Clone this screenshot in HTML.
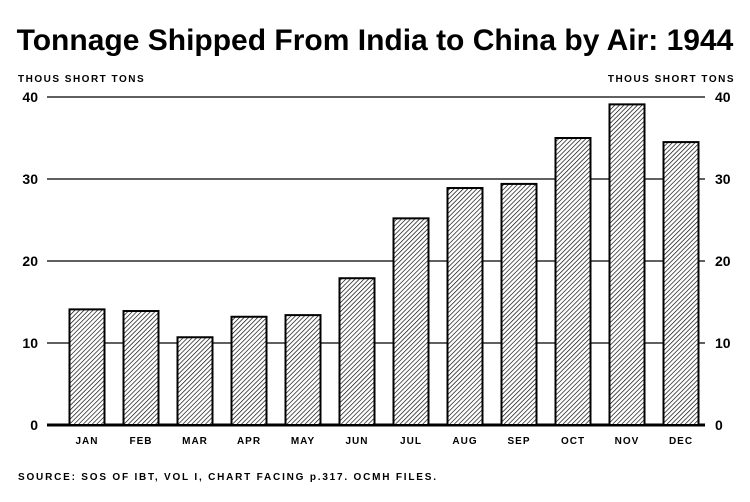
<!DOCTYPE html>
<html><head><meta charset="utf-8"><style>
body{margin:0;background:#fff;}
svg text{font-family:"Liberation Sans",Arial,sans-serif;fill:#000;}
</style></head><body>
<svg width="750" height="497" viewBox="0 0 750 497">
<defs>
<pattern id="hatch" patternUnits="userSpaceOnUse" width="3.2" height="3.2" patternTransform="rotate(45)">
<rect width="3.2" height="3.2" fill="#fff"/>
<line x1="0" y1="0" x2="0" y2="3.2" stroke="#000" stroke-width="1.3"/>
</pattern>
</defs>
<text x="375" y="50" text-anchor="middle" font-size="30" font-weight="bold">Tonnage Shipped From India to China by Air: 1944</text>
<text x="18" y="82" font-size="10" font-weight="bold" letter-spacing="1.5">THOUS SHORT TONS</text>
<text x="735" y="82" text-anchor="end" font-size="10" font-weight="bold" letter-spacing="1.5">THOUS SHORT TONS</text>
<g id="grid"></g>
<g id="bars"></g>
<g id="labels"></g>
<text x="18" y="480" font-size="10" font-weight="bold" letter-spacing="1.8">SOURCE: SOS OF IBT, VOL I, CHART FACING p.317. OCMH FILES.</text>
</svg>
<script>
const categories=["JAN","FEB","MAR","APR","MAY","JUN","JUL","AUG","SEP","OCT","NOV","DEC"];
const values=[14.1,13.9,10.7,13.2,13.4,17.9,25.2,28.9,29.4,35,39.1,34.5];
const ticks=[0,10,20,30,40];
const NS="http://www.w3.org/2000/svg";
function y(v){return 425-v*8.2;}
function x(i){return 87+i*54;}
const bw=35;
function mk(tag,attrs,parent){const e=document.createElementNS(NS,tag);for(const k in attrs)e.setAttribute(k,attrs[k]);document.getElementById(parent).appendChild(e);return e;}
ticks.forEach(t=>{
 const l=mk("line",{x1:47,x2:705,y1:y(t),y2:y(t),stroke:"#000","stroke-width":t===0?3:1.2},"grid");
 
 
 const a=mk("text",{x:38,y:y(t)+5,"text-anchor":"end","font-size":14,"font-weight":"bold"},"grid");a.textContent=t;
 
 
 const b=mk("text",{x:715,y:y(t)+5,"font-size":14,"font-weight":"bold"},"grid");b.textContent=t;
 
 
});
categories.forEach((c,i)=>{
 const r=mk("rect",{x:x(i)-bw/2,y:y(values[i]),width:bw,height:425-y(values[i]),fill:"url(#hatch)",stroke:"#000","stroke-width":2},"bars");
 
 
 const t=mk("text",{x:x(i),y:444,"text-anchor":"middle","font-size":10,"font-weight":"bold","letter-spacing":1},"labels");t.textContent=c;
 
 
});
</script>
</body></html>
